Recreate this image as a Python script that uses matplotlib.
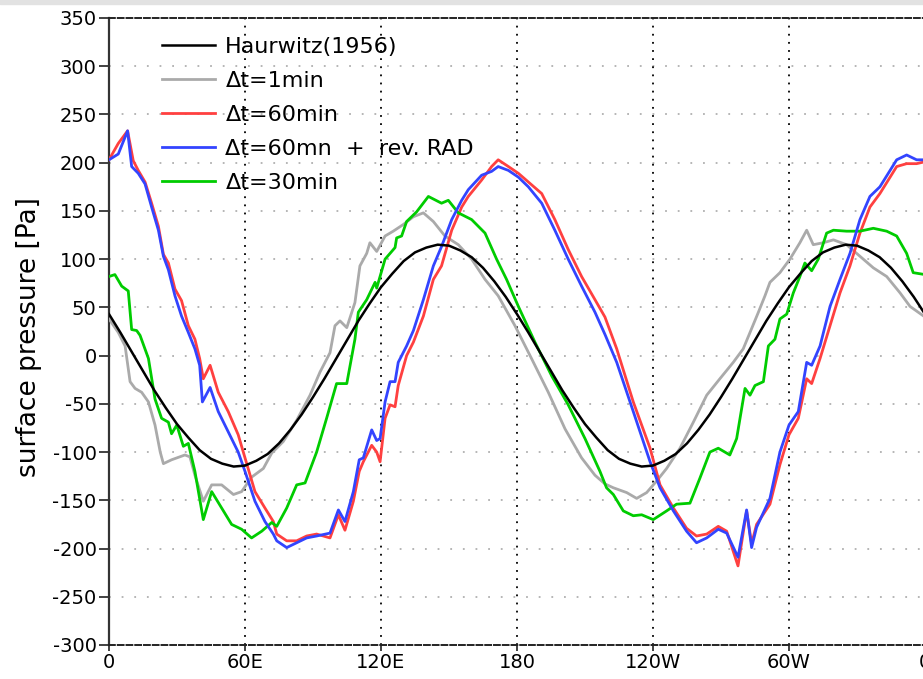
import matplotlib
matplotlib.use("Agg")
import matplotlib.pyplot as plt

# longitude (deg east) and surface pressure anomaly (Pa)
lon_hw = [0, 5, 10, 15, 20, 25, 30, 35, 40, 45, 50, 55, 60, 65, 70, 75, 80, 85, 90,
          95, 100, 105, 110, 115, 120, 125, 130, 135, 140, 145, 150, 155, 160, 165, 170,
          175, 180, 185, 190, 195, 200, 205, 210, 215, 220, 225, 230, 235, 240, 245, 250,
          255, 260, 265, 270, 275, 280, 285, 290, 295, 300, 305, 310, 315, 320, 325, 330,
          335, 340, 345, 350, 355, 360]
p_hw = [43, 24, 4, -16, -36, -54, -71, -85, -98, -107, -112, -115, -114, -109, -102, -91,
        -77, -61, -43, -24, -4, 16, 36, 54, 71, 85, 98, 107, 112, 115, 114, 109, 102, 91,
        77, 61, 43, 24, 4, -16, -36, -54, -71, -85, -98, -107, -112, -115, -114, -109,
        -102, -91, -77, -61, -43, -24, -4, 16, 36, 54, 71, 85, 98, 107, 112, 115, 114,
        109, 102, 91, 77, 61, 43]

lon_1 = [0, 4.1, 7.1, 9.3, 11.5, 14.4, 17.4, 20.3, 22.6, 24, 27.6, 33.5, 35.7, 37.9, 41.6,
         45.3, 49.7, 54.9, 58.5, 62.9, 68.1, 71.8, 76.9, 82.8, 88.7, 93.1, 97.5, 99.7,
         101.9, 104.9, 108.5, 110.7, 113.7, 115.1, 118.1, 121.8, 125.4, 129.9, 134.3,
         138.7, 143.1, 148.2, 154.1, 160, 165.9, 171.7, 179.1, 186.4, 193.8, 201.2, 208.5,
         214.4, 218.8, 222.5, 228.4, 232.8, 237.2, 241.6, 246, 251.9, 257.8, 263.7, 269.5,
         275.4, 279.8, 282.8, 286.5, 289.4, 291.6, 296, 300.4, 304.8, 307.8, 310.7, 315.1,
         319.6, 325.4, 331.3, 337.2, 343.1, 349, 353.4, 360]
p_1 = [38, 24, 10, -27, -34, -38, -48, -72, -100, -112, -108, -103, -105, -124, -151,
       -134, -134, -144, -141, -126, -117, -101, -89, -67, -41, -17, 3, 31, 36, 29, 55, 93,
       106, 117, 108, 124, 129, 136, 144, 148, 139, 124, 115, 100, 79, 62, 31, -3, -38, -76,
       -106, -124, -133, -137, -142, -148, -142, -130, -117, -96, -69, -41, -24, -7, 7, 24,
       45, 62, 76, 86, 100, 117, 130, 115, 117, 120, 115, 103, 91, 82, 65, 51, 40]

lon_60 = [0, 4.1, 8.2, 10.7, 12.9, 15.9, 18.8, 21.8, 24, 26.2, 29.1, 32, 35, 37.9, 40,
          41.6, 44.6, 48.2, 52.6, 57, 60, 64.4, 68.8, 72.5, 74, 78.4, 82.8, 87.2, 91.6,
          97.5, 101.2, 104.1, 107.8, 110.4, 112.2, 115.9, 118.1, 119.6, 121.8, 124, 126.2,
          127.6, 131.3, 134.3, 138.7, 143.1, 146.7, 151.2, 155.6, 158.5, 164.4, 168.8,
          171.7, 176.2, 180.6, 185, 190.9, 196.7, 202.6, 208.5, 214.4, 218.8, 224, 231.3,
          238.7, 243.1, 249, 254.8, 259.2, 263.7, 268.8, 272.5, 277.5, 281.3, 283.5, 285.7,
          291.6, 296, 300, 304.1, 307.8, 310, 313.7, 318.1, 322.5, 326.9, 331.3, 335.7,
          340.1, 344.6, 347.5, 351.9, 356.3, 360]
p_60 = [203, 220, 233, 202, 192, 180, 158, 134, 105, 96, 69, 57, 31, 17, -3, -24, -10,
        -38, -58, -82, -106, -141, -158, -172, -185, -192, -192, -187, -185, -189, -165,
        -181, -151, -120, -110, -93, -100, -110, -65, -51, -53, -31, 0, 14, 41, 79, 93, 130,
        154, 165, 182, 196, 203, 196, 189, 180, 168, 141, 110, 82, 58, 40, 7, -48, -96,
        -134, -158, -179, -187, -185, -177, -182, -218, -161, -195, -175, -154, -113, -82,
        -65, -24, -29, -3, 31, 65, 93, 127, 154, 168, 185, 196, 199, 199, 201]

lon_rad = [0, 4.1, 8.2, 10, 12.9, 15.9, 18.8, 21.8, 24, 26.2, 29.1, 32, 35, 37.9, 40,
           41.2, 44.6, 48.2, 52.6, 57, 60, 64.4, 68.8, 72.5, 74, 78.4, 82.8, 87.2, 91.6,
           97.5, 101.2, 104.1, 107.8, 110.4, 112.2, 115.9, 118.1, 119.6, 121.8, 124, 126.2,
           127.6, 131.3, 134.3, 138.7, 143.1, 146.7, 151.2, 155.6, 158.5, 164.4, 168.8,
           171.7, 176.2, 180.6, 185, 190.9, 196.7, 202.6, 208.5, 214.4, 218.8, 224, 231.3,
           238.7, 243.1, 249, 254.8, 259.2, 263.7, 268.8, 272.5, 277.5, 281.3, 283.5, 285.7,
           291.6, 296, 300, 304.1, 307.8, 310, 313.7, 318.1, 322.5, 326.9, 331.3, 335.7,
           340.1, 344.6, 347.5, 351.9, 356.3, 360]
p_rad = [203, 209, 233, 196, 189, 178, 154, 130, 103, 89, 62, 41, 24, 7, -10, -48, -33,
         -58, -79, -100, -120, -151, -172, -185, -192, -199, -194, -189, -187, -184, -160,
         -172, -141, -108, -106, -77, -88, -86, -48, -27, -27, -7, 10, 26, 58, 93, 113, 141,
         161, 172, 187, 191, 196, 192, 185, 175, 158, 130, 100, 72, 45, 22, -7, -58, -110,
         -137, -161, -182, -194, -189, -180, -184, -209, -160, -199, -178, -148, -100, -72,
         -58, -7, -10, 10, 51, 79, 106, 141, 165, 175, 192, 203, 208, 203, 203]

lon_30 = [0, 2.6, 5.6, 8.5, 10, 12.2, 13.7, 17.4, 20.3, 23.2, 26.2, 27.6, 29.9, 32.8, 35,
          37.9, 41.6, 45.3, 49.7, 54.1, 58.5, 62.9, 67.4, 71.8, 74, 78.4, 82.8, 86.5, 91.6,
          96, 100.4, 104.9, 108.5, 110, 113.7, 117.4, 118.1, 121.8, 124, 126.2, 126.9,
          129.1, 131.3, 135.7, 140.9, 146.7, 149.7, 154.1, 160, 165.9, 171, 175.4, 180.6,
          187.9, 195.3, 202.6, 210, 216.6, 219.5, 222.5, 226.9, 231.3, 235, 240.1, 246,
          250.4, 256.3, 260.7, 265.1, 268.8, 273.9, 276.9, 280.6, 282.8, 285, 288.7, 290.9,
          293.8, 296, 299, 301.9, 304.8, 307, 310, 312.9, 316.6, 319.6, 325.4, 331.3, 337.2,
          343.1, 347.5, 351.9, 354.8, 360]
p_30 = [82, 84, 72, 67, 27, 26, 21, -3, -45, -65, -69, -81, -72, -94, -91, -120, -170,
        -141, -158, -175, -180, -189, -182, -173, -177, -158, -134, -132, -100, -65, -29,
        -29, 17, 45, 58, 76, 70, 100, 106, 112, 122, 124, 139, 149, 165, 158, 161, 148, 141,
        127, 100, 79, 51, 14, -21, -51, -86, -120, -137, -144, -161, -166, -165, -170, -161,
        -154, -153, -127, -100, -96, -103, -86, -34, -41, -31, -27, 10, 17, 38, 43, 65, 82,
        96, 88, 100, 127, 130, 129, 129, 132, 129, 124, 106, 86, 84]

xticks = [0, 60, 120, 180, 240, 300, 360]
xticklabels = ["0", "60E", "120E", "180", "120W", "60W", "0"]
yticks = list(range(-300, 351, 50))

plt.rcParams["font.family"] = "DejaVu Sans"

fig = plt.figure(figsize=(9.23, 6.79), dpi=100)
ax = fig.add_axes([109 / 923, 1 - 645 / 679, 816 / 923, 627 / 679])

# thin grey strip along the top edge
fig.patches.append(plt.Rectangle((0, 1 - 4 / 679), 1, 4 / 679, transform=fig.transFigure,
                                 color="#e2e2e2", zorder=0))

for y in yticks[1:-1]:
    ax.axhline(y, color="#b0b0b0", lw=1.3, ls=(0, (1, 6)), zorder=1)
for x in xticks[1:-1]:
    ax.axvline(x, color="black", lw=1.3, ls=(0, (1, 3.5)), zorder=1)

ax.plot(lon_hw, p_hw, color="black", lw=1.8, label="Haurwitz(1956)", zorder=5)
ax.plot(lon_1, p_1, color="#aaaaaa", lw=2, label="\u0394t=1min", zorder=3)
ax.plot(lon_60, p_60, color="#ff4040", lw=2, label="\u0394t=60min", zorder=3)
ax.plot(lon_rad, p_rad, color="#3344ff", lw=2, label="\u0394t=60mn  +  rev. RAD", zorder=4)
ax.plot(lon_30, p_30, color="#00cc00", lw=2, label="\u0394t=30min", zorder=3)

ax.set_xlim(0, 360)
ax.set_ylim(-300, 350)
ax.set_xticks(xticks)
ax.set_xticklabels(xticklabels, fontsize=14)
ax.set_yticks(yticks)
ax.set_yticklabels([str(v) for v in yticks], fontsize=14)
ax.tick_params(axis="y", length=7, width=1.3, color="#333333", pad=2)
ax.tick_params(axis="x", length=4, width=1.3, color="#333333", pad=2)

ax.spines["right"].set_visible(False)
ax.spines["left"].set_linewidth(1.6)
ax.spines["left"].set_color("#333333")
for s in ["top", "bottom"]:
    ax.spines[s].set_linestyle((0, (3, 1.5)))
    ax.spines[s].set_linewidth(1.4)
    ax.spines[s].set_color("#222222")

ax.set_ylabel("surface pressure [Pa]", fontsize=19)
ax.yaxis.set_label_coords(-0.082, 0.491)

leg = ax.legend(loc="upper left", bbox_to_anchor=(162 / 923, 1 - 37 / 679),
                bbox_transform=fig.transFigure, frameon=False, fontsize=16,
                handlelength=2.4, handletextpad=0.45, labelspacing=0.63,
                borderpad=0, borderaxespad=0)

plt.savefig("out.png", dpi=100)
plt.close()
